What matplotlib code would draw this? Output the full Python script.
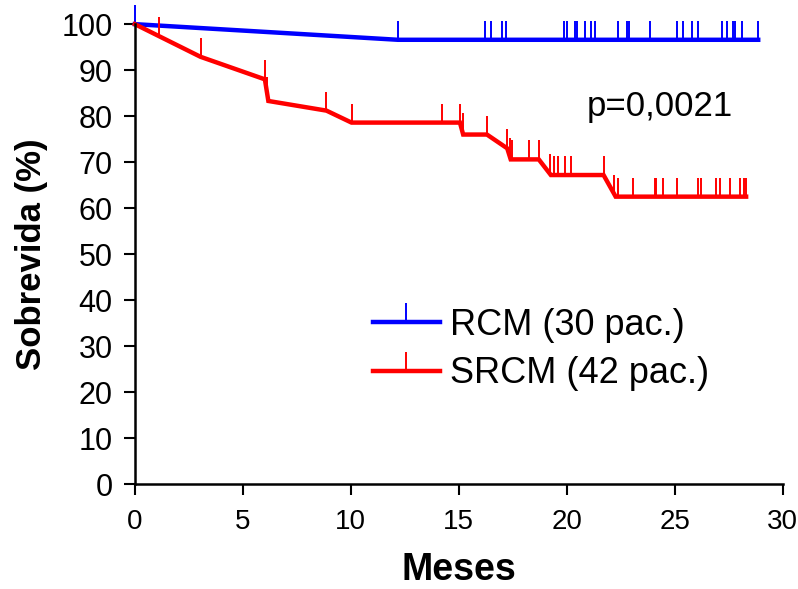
import numpy as np
import matplotlib
matplotlib.use("Agg")
import matplotlib.pyplot as plt
from matplotlib.path import Path
from matplotlib.lines import Line2D

plt.rcParams['font.family'] = ['Liberation Sans', 'DejaVu Sans']

# RCM curve (vertices of the drawn curve) and censored times
rcm_t = [0, 12.18, 28.86]
rcm_s = [100, 96.6, 96.6]
rcm_cens = [0, 12.18, 16.2, 16.5, 17.0, 17.2, 19.86, 19.99, 20.37, 20.45,
            20.86, 21.1, 21.3, 22.35, 22.8, 22.9, 23.84, 25.08, 25.4, 25.8,
            26.08, 27.2, 27.4, 27.7, 27.8, 28.1, 28.86]

# SRCM curve
srcm_t = [0, 3.04, 6.02, 6.18, 8.87, 10.03, 15.05, 15.2, 16.3, 17.24, 17.4,
          18.7, 19.26, 21.7, 22.26, 28.3]
srcm_s = [100, 92.9, 88.0, 83.3, 81.2, 78.6, 78.6, 76.0, 76.0, 73.0, 70.6,
          70.6, 67.2, 67.2, 62.5, 62.5]
srcm_cens = [1.11, 3.04, 6.02, 6.14, 8.87, 10.03, 14.2, 15.05, 15.17, 16.3,
             17.24, 17.36, 17.47, 18.24, 18.7, 19.2, 19.4, 19.6, 19.9, 20.2,
             21.7, 22.2, 22.35, 23.07, 24.07, 24.15, 24.45, 25.08, 26.08, 26.2,
             26.9, 27.08, 27.55, 28.0, 28.2, 28.3]

labels = ["RCM (30 pac.)", "SRCM (42 pac.)"]
colors = ["#0000ff", "#ff0000"]

# upward tick marker (starts at the point, goes up)
tick = Path([(0, 0), (0, 1)], [Path.MOVETO, Path.LINETO])
msize = 28

fig = plt.figure(figsize=(7.98, 5.89), dpi=100)
ax = fig.add_axes([0.169, 0.178, 0.812, 0.781])

for t, s, c, col in [(rcm_t, rcm_s, rcm_cens, colors[0]),
                     (srcm_t, srcm_s, srcm_cens, colors[1])]:
    ax.plot(t, s, color=col, lw=3.2, solid_joinstyle='miter', clip_on=False)
    ax.plot(c, np.interp(c, t, s), ls='none', marker=tick, markersize=msize,
            markeredgewidth=1.4, color=col, clip_on=False)

handles = [Line2D([], [], color=col, lw=3.2, marker=tick, markersize=msize,
                  markeredgewidth=1.4) for col in colors]
ax.legend(handles, labels, loc='upper left', bbox_to_anchor=(0.345, 0.415),
          frameon=False, fontsize=26, handlelength=1.85, handletextpad=0.3,
          labelspacing=0.38, borderaxespad=0)

ax.text(0.697, 0.82, "p=0,0021", transform=ax.transAxes, fontsize=25,
        ha='left', va='center')

ax.set_xlim(0, 30)
ax.set_ylim(0, 100)
ax.set_xticks(range(0, 31, 5))
ax.set_yticks(range(0, 101, 10))
ax.tick_params(width=1.5, length=8, direction='out', pad=8)
ax.tick_params(axis='x', labelsize=20, pad=10)
ax.tick_params(axis='y', labelsize=22)
for side in ['top', 'right']:
    ax.spines[side].set_visible(False)
for side in ['left', 'bottom']:
    ax.spines[side].set_linewidth(1.8)

ax.set_xlabel("Meses", fontsize=27, fontweight='bold', labelpad=12)
ax.set_ylabel("Sobrevida (%)", fontsize=25, fontweight='bold', labelpad=10)

fig.savefig("out.png", dpi=100)
